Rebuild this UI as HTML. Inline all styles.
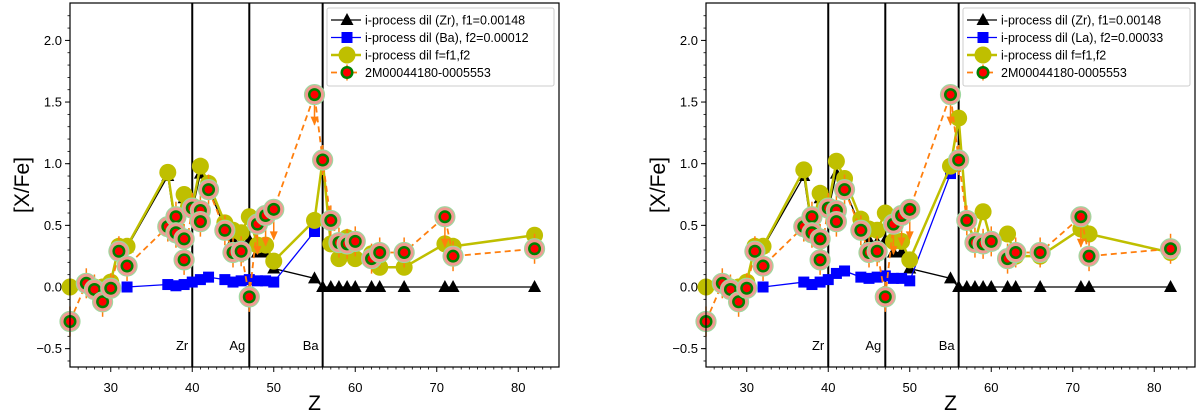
<!DOCTYPE html>
<html><head><meta charset="utf-8"><style>
html,body{margin:0;padding:0;background:#fff;}
svg{display:block;font-family:"Liberation Sans",sans-serif;}
</style></head><body>
<svg id="chart" width="1200" height="414" viewBox="0 0 1200 414" xmlns="http://www.w3.org/2000/svg"></svg>
<script>
const xTicks=[30,40,50,60,70,80];
const yTicks=[-0.5,0,0.5,1.0,1.5,2.0];
const yTickLabels=["−0.5","0.0","0.5","1.0","1.5","2.0"];
const markerLines=[40,47,56];
const markerLabels=["Zr","Ag","Ba"];
const zBlack=[25,27,28,29,30,31,32,37,38,39,40,41,42,44,45,46,47,48,49,50,55,56,57,58,59,60,62,63,66,71,72,82];
const blackVals=[0,0.02,0,0,0.03,0.32,0.32,0.9,0.45,0.72,0.62,0.92,0.8,0.48,0.38,0.36,0.38,0.28,0.28,0.15,0.07,0,0,0,0,0,0,0,0,0,0,0];
const yellowLeft=[0,0.02,0,0,0.04,0.33,0.33,0.93,0.48,0.75,0.65,0.98,0.84,0.52,0.46,0.44,0.57,0.34,0.34,0.21,0.54,1.03,0.35,0.23,0.4,0.23,0.27,0.16,0.16,0.35,0.33,0.42];
const yellowRight=[0,0.02,0,0,0.04,0.33,0.33,0.95,0.48,0.76,0.65,1.02,0.88,0.55,0.47,0.46,0.6,0.37,0.37,0.22,0.98,1.37,0.54,0.37,0.61,0.37,0.43,0.25,0.25,0.47,0.43,0.28];
const zBlue=[32,37,38,39,40,41,42,44,45,46,47,48,49,50,55];
const blueLeft=[0,0.02,0.01,0.02,0.04,0.06,0.08,0.06,0.04,0.05,0.06,0.05,0.05,0.04,0.45];
const blueRight=[0,0.04,0.02,0.04,0.06,0.11,0.13,0.08,0.07,0.08,0.09,0.07,0.07,0.05,0.92];
const zStar=[25,27,28,29,30,31,32,37,38,38,39,39,40,41,41,42,44,45,46,47,48,49,50,55,56,57,58,59,60,62,63,66,71,72,82];
const starVals=[-0.28,0.03,-0.02,-0.12,-0.01,0.29,0.17,0.49,0.57,0.44,0.39,0.22,0.64,0.62,0.53,0.79,0.46,0.28,0.29,-0.08,0.51,0.58,0.63,1.56,1.03,0.54,0.36,0.35,0.37,0.23,0.28,0.28,0.57,0.25,0.31];
const starUpper=[0,0,0,0,0,0,0,0,0,0,0,0,0,0,0,0,0,0,0,0,1,1,1,1,0,0,0,0,0,0,0,0,1,0,0];
const legendLeft=["i-process dil (Zr), f1=0.00148","i-process dil (Ba), f2=0.00012","i-process dil f=f1,f2","2M00044180-0005553"];
const legendRight=["i-process dil (Zr), f1=0.00148","i-process dil (La), f2=0.00033","i-process dil f=f1,f2","2M00044180-0005553"];

const NS="http://www.w3.org/2000/svg";
const svg=document.getElementById('chart');
function mk(tag,attrs,parent){const e=document.createElementNS(NS,tag);for(const k in attrs)e.setAttribute(k,attrs[k]);(parent||svg).appendChild(e);return e;}

function panel(ox,name,yellowVals,blueVals,legend){
  const L=ox+70,R=ox+559,T=3,B=367;
  const sx=z=>L+(z-25)*(R-L)/60;
  const sy=v=>287-v*123.3;
  const g=mk('g',{});
  
  
  for(let i=0;i<xTicks.length;i++){
    const x=sx(xTicks[i]);
    mk('line',{x1:x,y1:B,x2:x,y2:B+5,stroke:'#000','stroke-width':1},g);
    const t=mk('text',{x:x,y:392,'font-size':13,'text-anchor':'middle'},g);t.textContent=xTicks[i];
    
    
  }
  for(let z=26;z<85;z++){if(z%10==0)continue;const x=sx(z);mk('line',{x1:x,y1:B,x2:x,y2:B+2.5,stroke:'#000','stroke-width':0.8},g);}
  for(let i=0;i<yTicks.length;i++){
    const y=sy(yTicks[i]);
    mk('line',{x1:L-5,y1:y,x2:L,y2:y,stroke:'#000','stroke-width':1},g);
    const t=mk('text',{x:L-8,y:y+4.5,'font-size':13,'text-anchor':'end'},g);t.textContent=yTickLabels[i];
    
    
  }
  for(let v=-0.6;v<2.3;v+=0.1){const y=sy(v);if(y<T||y>B)continue;mk('line',{x1:L-2.5,y1:y,x2:L,y2:y,stroke:'#000','stroke-width':0.8},g);}
  const xl=mk('text',{x:(L+R)/2,y:410,'font-size':21,'text-anchor':'middle'},g);xl.textContent='Z';
  
  
  const yl=mk('text',{x:0,y:0,'font-size':21,'text-anchor':'middle',transform:`translate(${ox+29},185) rotate(-90)`},g);yl.textContent='[X/Fe]';
  
  
  for(let i=0;i<markerLines.length;i++){
    const x=sx(markerLines[i]);
    const ln=mk('line',{x1:x,y1:T,x2:x,y2:B,stroke:'#000','stroke-width':2},g);
    
    
    const t=mk('text',{x:x-4,y:350,'font-size':13,'text-anchor':'end'},g);t.textContent=markerLabels[i];
    
    
  }
  const bp=zBlack.map((z,i)=>sx(z)+','+sy(blackVals[i])).join(' ');
  const bl=mk('polyline',{points:bp,fill:'none',stroke:'#000','stroke-width':1.3},g);
  
  
  zBlack.forEach((z,i)=>{const x=sx(z),y=sy(blackVals[i]);
    const p=mk('polygon',{points:`${x},${y-7} ${x-6.5},${y+5} ${x+6.5},${y+5}`,fill:'#000'},g);
    
    });
  const blp=zBlue.map((z,i)=>sx(z)+','+sy(blueVals[i])).join(' ');
  const bll=mk('polyline',{points:blp,fill:'none',stroke:'#0000ff','stroke-width':1.3},g);
  
  
  zBlue.forEach((z,i)=>{const x=sx(z),y=sy(blueVals[i]);
    const r=mk('rect',{x:x-5.5,y:y-5.5,width:11,height:11,fill:'#0000ff'},g);
    
    });
  const yp=zBlack.map((z,i)=>sx(z)+','+sy(yellowVals[i])).join(' ');
  const yll=mk('polyline',{points:yp,fill:'none',stroke:'#bfbf00','stroke-width':2.5},g);
  
  
  zBlack.forEach((z,i)=>{const c=mk('circle',{cx:sx(z),cy:sy(yellowVals[i]),r:8.5,fill:'#bfbf00'},g);
    
    });
  const sp=zStar.map((z,i)=>sx(z)+','+sy(starVals[i])).join(' ');
  const sl=mk('polyline',{points:sp,fill:'none',stroke:'#ff7f0e','stroke-width':1.8,'stroke-dasharray':'6,4'},g);
  
  
  zStar.forEach((z,i)=>{const x=sx(z),y=sy(starVals[i]);
    if(starUpper[i]){
      mk('line',{x1:x,y1:y,x2:x,y2:y+30,stroke:'#ff7f0e','stroke-width':1.5},g);
      mk('polygon',{points:`${x-4},${y+22} ${x+4},${y+22} ${x},${y+31}`,fill:'#ff7f0e'},g);
    } else mk('line',{x1:x,y1:y-15,x2:x,y2:y+15,stroke:'#ff7f0e','stroke-width':1.5},g);
  });
  zStar.forEach((z,i)=>{const x=sx(z),y=sy(starVals[i]);
    const c=mk('circle',{cx:x,cy:y,r:10,fill:'#f19a92',stroke:'#9fd89f','stroke-width':1.2},g);
    
    
    mk('circle',{cx:x,cy:y,r:6.5,fill:'#008000'},g);
    mk('circle',{cx:x,cy:y,r:4,fill:'#ff0000'},g);});
  const fr=mk('rect',{x:L,y:T,width:R-L,height:B-T,fill:'none',stroke:'#000','stroke-width':1.2},g);
  
  
  const lg=mk('g',{},g);
  
  
  const lx=ox+327;
  mk('rect',{x:lx,y:8,width:227,height:78,fill:'#fff','fill-opacity':0.85,stroke:'#ccc','stroke-width':1,rx:2},lg);
  const ys=[20,37.5,55,72.5];
  for(let i=0;i<4;i++){
    const y=ys[i];const cx=lx+20;
    const e=mk('g',{},lg);
    
    
    if(i==0){mk('line',{x1:lx+4,y1:y,x2:lx+34,y2:y,stroke:'#000','stroke-width':1.3},e);mk('polygon',{points:`${cx},${y-7} ${cx-6.5},${y+5} ${cx+6.5},${y+5}`,fill:'#000'},e);}
    if(i==1){mk('line',{x1:lx+4,y1:y,x2:lx+34,y2:y,stroke:'#00f','stroke-width':1.3},e);mk('rect',{x:cx-5.5,y:y-5.5,width:11,height:11,fill:'#00f'},e);}
    if(i==2){mk('line',{x1:lx+4,y1:y,x2:lx+34,y2:y,stroke:'#bfbf00','stroke-width':2.5},e);mk('circle',{cx:cx,cy:y,r:8.5,fill:'#bfbf00'},e);}
    if(i==3){mk('line',{x1:lx+4,y1:y,x2:lx+34,y2:y,stroke:'#ff7f0e','stroke-width':1.8,'stroke-dasharray':'6,4'},e);mk('line',{x1:cx,y1:y-8,x2:cx,y2:y+8,stroke:'#ff7f0e','stroke-width':1.5},e);mk('circle',{cx:cx,cy:y,r:6.5,fill:'#008000'},e);mk('circle',{cx:cx,cy:y,r:4,fill:'#f00'},e);}
    const t=mk('text',{x:lx+38,y:y+4.5,'font-size':12.5},e);t.textContent=legend[i];
  }
}
panel(0,'left-panel',yellowLeft,blueLeft,legendLeft);
panel(636,'right-panel',yellowRight,blueRight,legendRight);
</script>
</body></html>
